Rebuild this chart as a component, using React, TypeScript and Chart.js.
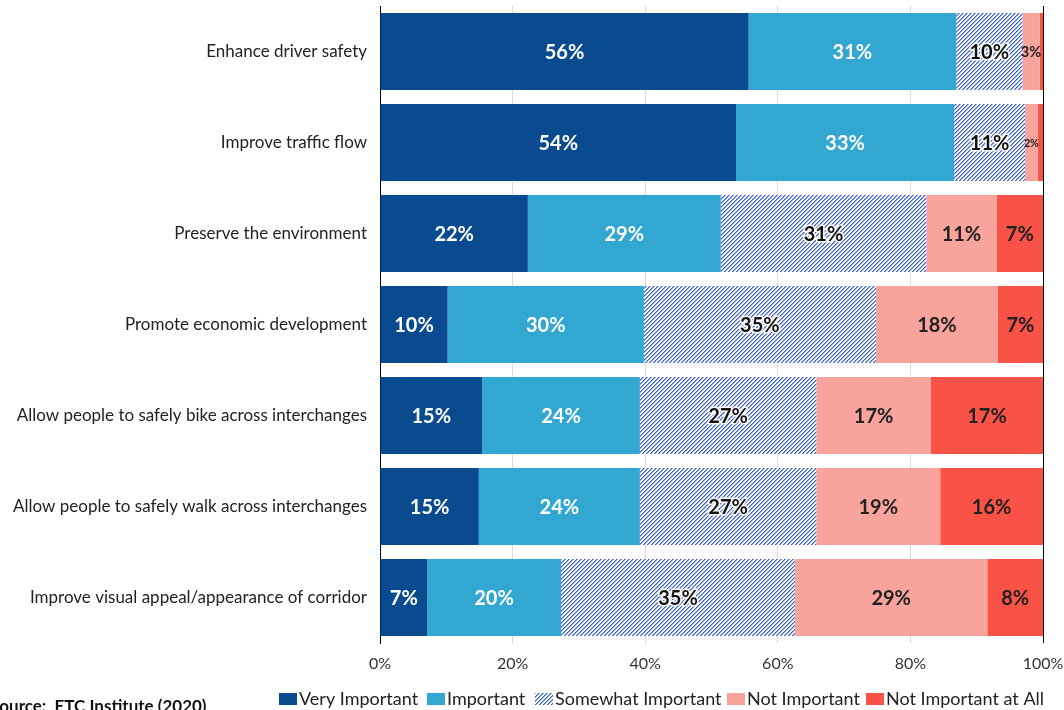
import React, { useEffect, useRef } from "react";
import { Chart, registerables } from "chart.js";

Chart.register(...registerables);

const categories = [
  "Enhance driver safety",
  "Improve traffic flow",
  "Preserve the environment",
  "Promote economic development",
  "Allow people to safely bike across interchanges",
  "Allow people to safely walk across interchanges",
  "Improve visual appeal/appearance of corridor",
];
const seriesNames = [
  "Very Important",
  "Important",
  "Somewhat Important",
  "Not Important",
  "Not Important at All",
];
const veryImportant = [55.6, 53.7, 22.3, 10.2, 15.4, 14.9, 7.1];
const important = [31.3, 32.9, 29.1, 29.6, 23.8, 24.3, 20.2];
const somewhatImportant = [10.0, 10.7, 31.0, 35.0, 26.6, 26.6, 35.3];
const notImportant = [2.6, 1.9, 10.6, 18.4, 17.3, 18.7, 29.0];
const notImportantAtAll = [0.5, 0.8, 7.0, 6.8, 16.9, 15.5, 8.4];
const xTicks = [0, 20, 40, 60, 80, 100];
const sourceText = "Source:  ETC Institute (2020)";

const FONT = "Lato, 'Open Sans', sans-serif";
const C_VI = "#0a4b8f";
const C_IMP = "#31a7d2";
const C_NI = "#f8a39c";
const C_NAA = "#fa5247";
const legendX = [279, 427, 535, 727, 866];

function makeHatch(): CanvasPattern | string {
  const c = document.createElement("canvas");
  c.width = 4;
  c.height = 4;
  const g = c.getContext("2d");
  if (!g) return "#fff";
  g.fillStyle = "#ffffff";
  g.fillRect(0, 0, 4, 4);
  for (let i = 0; i < 4; i++) {
    g.fillStyle = "#3a5fdc";
    g.fillRect(i, 3 - i, 1, 1);
    g.fillStyle = "#8aa2ee";
    g.fillRect(i, (4 - i) % 4, 1, 1);
  }
  const p = g.createPattern(c, "repeat");
  return p || "#fff";
}

export default function App() {
  const ref = useRef<HTMLCanvasElement | null>(null);

  useEffect(() => {
    const canvas = ref.current;
    if (!canvas) return;
    const hatch = makeHatch();
    const colors: any[] = [C_VI, C_IMP, hatch, C_NI, C_NAA];
    const textColors = ["#ffffff", "#ffffff", "#111111", "#222222", "#222222"];
    const values = [veryImportant, important, somewhatImportant, notImportant, notImportantAtAll];

    const labelPlugin = {
      id: "segLabels",
      afterDatasetsDraw(chart: any) {
        const ctx = chart.ctx;
        ctx.save();
        ctx.textAlign = "center";
        ctx.textBaseline = "middle";
        chart.data.datasets.forEach((ds: any, di: number) => {
          const meta = chart.getDatasetMeta(di);
          meta.data.forEach((el: any, i: number) => {
            const v = ds.data[i];
            if (v < 1) return;
            const w = Math.abs(el.x - el.base);
            const size = Math.min(20, w * 0.85);
            ctx.font = `bold ${size}px ${FONT}`;
            const cx = (el.x + el.base) / 2;
            const txt = Math.round(v) + "%";
            if (di === 2) {
              ctx.lineWidth = 3;
              ctx.strokeStyle = "#ffffff";
              ctx.lineJoin = "round";
              ctx.strokeText(txt, cx, el.y + 1);
            }
            ctx.fillStyle = textColors[di];
            ctx.fillText(txt, cx, el.y + 1);
          });
        });
        ctx.restore();
      },
    };

    const legendPlugin = {
      id: "customLegend",
      afterDraw(chart: any) {
        const ctx = chart.ctx;
        ctx.save();
        ctx.font = `18px ${FONT}`;
        ctx.textBaseline = "middle";
        ctx.textAlign = "left";
        const y = 699;
        seriesNames.forEach((name, i) => {
          const x = legendX[i];
          ctx.fillStyle = colors[i];
          ctx.fillRect(x, y - 6, 18, 12);
          ctx.fillStyle = "#222222";
          ctx.fillText(name, x + 20, y);
        });
        ctx.font = `bold 17px ${FONT}`;
        ctx.textBaseline = "alphabetic";
        ctx.fillStyle = "#111111";
        ctx.fillText(sourceText, -10, 712);
        ctx.restore();
      },
    };

    const chart = new Chart(canvas, {
      type: "bar",
      data: {
        labels: categories,
        datasets: values.map((d, i) => ({
          label: seriesNames[i],
          data: d,
          backgroundColor: colors[i],
          borderWidth: 0,
          categoryPercentage: 1,
          barPercentage: 0.846,
        })),
      },
      options: {
        indexAxis: "y",
        responsive: false,
        animation: false,
        maintainAspectRatio: false,
        layout: { padding: { top: 6, right: 21, left: 0, bottom: 0 } },
        plugins: {
          legend: { display: false },
          tooltip: { enabled: false },
        },
        scales: {
          x: {
            stacked: true,
            min: 0,
            max: 100,
            afterBuildTicks: (scale: any) => {
              scale.ticks = xTicks.map((v) => ({ value: v }));
            },
            afterFit: (scale: any) => {
              scale.height = 67;
              scale.paddingLeft = 0;
              scale.paddingRight = 0;
            },
            ticks: {
              callback: (v: any) => v + "%",
              color: "#333333",
              font: { family: FONT, size: 16 },
              padding: 11,
              maxRotation: 0,
            },
            grid: {
              drawTicks: false,
              color: (c: any) => (c.tick && c.tick.value === 100 ? "#000000" : "#d9d9d9"),
              lineWidth: 1,
            },
            border: { display: false },
          },
          y: {
            stacked: true,
            afterFit: (scale: any) => {
              scale.width = 380;
              scale.paddingTop = 0;
              scale.paddingBottom = 0;
            },
            ticks: {
              color: "#222222",
              font: { family: FONT, size: 17 },
              padding: 13,
            },
            grid: { display: false, drawTicks: false },
            border: { display: true, color: "#000000", width: 1 },
          },
        },
      } as any,
      plugins: [labelPlugin, legendPlugin],
    });
    return () => chart.destroy();
  }, []);

  return (
    <div style={{ position: "fixed", left: 0, top: 0, width: 1064, height: 710, background: "#fff" }}>
      <canvas ref={ref} width={1064} height={710} style={{ display: "block", width: 1064, height: 710 }} />
    </div>
  );
}
